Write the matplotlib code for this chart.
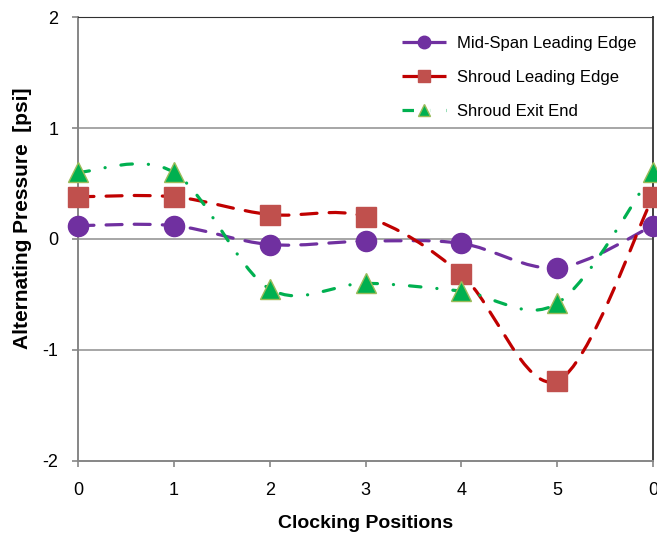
import numpy as np
import matplotlib
matplotlib.use("Agg")
import matplotlib.pyplot as plt
from matplotlib.path import Path
from matplotlib.patches import PathPatch
from matplotlib.lines import Line2D

plt.rcParams['font.family'] = ['Liberation Sans', 'DejaVu Sans']

# ---- data ----
positions = [0, 1, 2, 3, 4, 5, 6]
tick_labels = ['0', '1', '2', '3', '4', '5', '0']
midspan_le = [0.12, 0.12, -0.05, -0.02, -0.04, -0.26, 0.12]
shroud_le = [0.38, 0.38, 0.22, 0.20, -0.32, -1.28, 0.38]
shroud_exit = [0.60, 0.60, -0.45, -0.40, -0.47, -0.58, 0.60]


def smooth_path(x, y):
    # Excel-style smoothed line: cubic Bezier segments with Catmull-Rom tangents
    pts = np.column_stack([x, y]).astype(float)
    n = len(pts)
    verts = [pts[0]]
    codes = [Path.MOVETO]
    for i in range(n - 1):
        p0 = pts[max(i - 1, 0)]
        p1 = pts[i]
        p2 = pts[i + 1]
        p3 = pts[min(i + 2, n - 1)]
        c1 = p1 + (p2 - p0) / 6.0
        c2 = p2 - (p3 - p1) / 6.0
        verts += [c1, c2, p2]
        codes += [Path.CURVE4] * 3
    return Path(verts, codes)


dash = (0, (5.0, 3.8))
dashdot = (0, (3.6, 5.0, 0.05, 5.0))

# label, values, line colour, style, marker, face, edge, size, legend size
series = [
    ("Mid-Span Leading Edge", midspan_le, '#7030A0', dash, 'o', '#7030A0', '#7030A0', 14.5, 9),
    ("Shroud Leading Edge", shroud_le, '#C00000', dash, 's', '#C0504D', '#C0504D', 14, 9),
    ("Shroud Exit End", shroud_exit, '#00B050', dashdot, '^', '#00B050', '#9BBB59', 14, 9),
]

fig = plt.figure(figsize=(6.57, 5.34), dpi=100)
ax = fig.add_axes([0.1187, 0.137, 0.8753, 0.831])

for label, vals, lc, ls, mk, mfc, mec, ms, lms in series:
    patch = PathPatch(smooth_path(positions, vals), facecolor='none', edgecolor=lc,
                      lw=2.3, linestyle=ls, capstyle='round', zorder=3)
    ax.add_patch(patch)
    ax.plot(positions, vals, linestyle='none', marker=mk, ms=ms, mfc=mfc, mec=mec,
            mew=1, zorder=4, clip_on=False)

ax.set_xlim(0, 6)
ax.set_ylim(-2, 2)
ax.set_xticks(positions)
ax.set_xticklabels(tick_labels)
ax.set_yticks([-2, -1, 0, 1, 2])
ax.set_yticklabels(['-2', '-1', '0', '1', '2'])
ax.tick_params(axis='both', labelsize=13, colors='#868686', labelcolor='black',
               length=4, width=1.2, direction='out')
ax.tick_params(axis='x', pad=11)
ax.tick_params(axis='y', pad=10)

for yv in [-1, 0, 1]:
    ax.axhline(yv, color='#A6A6A6', lw=1.4, zorder=1)

ax.spines['left'].set_color('#868686')
ax.spines['bottom'].set_color('#868686')
ax.spines['left'].set_linewidth(1.4)
ax.spines['bottom'].set_linewidth(1.4)
ax.spines['top'].set_color('#303030')
ax.spines['right'].set_color('#404040')
ax.spines['right'].set_linewidth(1.4)

ax.set_xlabel('Clocking Positions', fontsize=14, fontweight='bold', labelpad=12)
ax.set_ylabel('Alternating Pressure  [psi]', fontsize=15, fontweight='bold')
ax.yaxis.set_label_coords(-0.08, 0.547)

handles = [
    Line2D([0], [0], color=lc, lw=2.3, linestyle=ls, marker=mk, ms=lms,
           mfc=mfc, mec=mec, mew=1)
    for label, vals, lc, ls, mk, mfc, mec, ms, lms in series
]
ax.legend(handles, [s[0] for s in series], loc='upper left', bbox_to_anchor=(0.5635, 0.958),
          frameon=False, fontsize=12, handlelength=2.65, labelspacing=1.15,
          handletextpad=0.66, borderaxespad=0, borderpad=0)

fig.savefig('out.png', dpi=100)
